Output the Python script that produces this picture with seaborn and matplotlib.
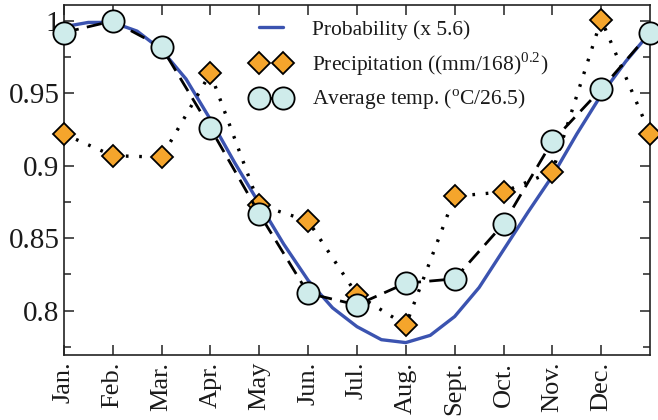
import matplotlib
matplotlib.use("Agg")
import matplotlib.pyplot as plt
import numpy as np
import pandas as pd
import seaborn as sns
from matplotlib.ticker import MultipleLocator, FixedLocator, FixedFormatter

# ---------------- data ----------------
months = ["Jan.", "Feb.", "Mar.", "Apr.", "May", "Jun.", "Jul.", "Aug.",
          "Sept.", "Oct.", "Nov.", "Dec."]
month_pos = [1, 2, 3, 4, 5, 6, 7, 8, 9, 10, 11, 12, 13]   # 13 = Jan. again

temp = [0.992, 1.000, 0.982, 0.926, 0.867, 0.812, 0.804, 0.819, 0.822,
        0.860, 0.917, 0.953, 0.992]
precip = [0.922, 0.907, 0.906, 0.964, 0.873, 0.862, 0.811, 0.790, 0.879,
          0.882, 0.896, 1.001, 0.922]

prob_x = [1.0, 1.5, 2.0, 2.5, 3.0, 3.5, 4.0, 4.5, 5.0, 5.5, 6.0, 6.5, 7.0,
          7.5, 8.0, 8.5, 9.0, 9.5, 10.0, 10.5, 11.0, 11.5, 12.0, 12.5, 13.0]
prob = [0.996, 0.999, 0.999, 0.993, 0.980, 0.960, 0.932, 0.902, 0.874,
        0.846, 0.821, 0.802, 0.789, 0.780, 0.778, 0.783, 0.796, 0.816,
        0.842, 0.868, 0.893, 0.922, 0.949, 0.972, 0.992]

ytick_vals = [0.8, 0.85, 0.9, 0.95, 1.0]
ytick_labels = ["0.8", "0.85", "0.9", "0.95", "1"]

labels = ["Probability (x 5.6)",
          r"Precipitation ((mm/168)$^{\mathregular{0.2}}$)",
          r"Average temp. ($^{\mathregular{o}}$C/26.5)"]

# ---------------- style ----------------
sns.set_style("ticks")
plt.rcParams["font.family"] = ["Liberation Serif", "DejaVu Serif"]
plt.rcParams["mathtext.fontset"] = "custom"
plt.rcParams["mathtext.rm"] = "Liberation Serif"

fig = plt.figure(figsize=(6.58, 4.20), dpi=100)
ax = fig.add_axes([0.097, 0.155, 0.891, 0.833])

df_prob = pd.DataFrame({"x": prob_x, "y": prob})
df_m = pd.DataFrame({"x": month_pos, "temp": temp, "precip": precip})

sns.lineplot(data=df_prob, x="x", y="y", ax=ax, color="#3b53b0",
             linewidth=2.4, label=labels[0], zorder=2,
             solid_joinstyle="round")
sns.lineplot(data=df_m, x="x", y="precip", ax=ax, color="black",
             linewidth=2.4, linestyle=(0, (0.8, 3.2)),
             marker="D", markersize=11, markerfacecolor="#f5a52c",
             markeredgecolor="black", markeredgewidth=1.3,
             label=labels[1], zorder=3, clip_on=False)
sns.lineplot(data=df_m, x="x", y="temp", ax=ax, color="black",
             linewidth=2.0, linestyle=(0, (5.5, 3)),
             marker="o", markersize=16, markerfacecolor="#cfeceb",
             markeredgecolor="black", markeredgewidth=1.3,
             label=labels[2], zorder=4, clip_on=False)

ax.set_xlim(1, 13)
ax.set_ylim(0.7695, 1.011)
ax.set_xlabel("")
ax.set_ylabel("")

ax.xaxis.set_major_locator(FixedLocator(month_pos[:12]))
ax.xaxis.set_major_formatter(FixedFormatter(months))
ax.yaxis.set_major_locator(FixedLocator(ytick_vals))
ax.yaxis.set_major_formatter(FixedFormatter(ytick_labels))
ax.yaxis.set_minor_locator(MultipleLocator(0.025))

ax.tick_params(axis="both", which="both", direction="in", top=True,
               right=True, width=1.1, colors="#222222")
ax.tick_params(axis="both", which="major", length=7.5)
ax.tick_params(axis="y", which="minor", length=5)
ax.tick_params(axis="x", labelsize=19, rotation=90, pad=5, labelcolor="#1a1a1a")
ax.tick_params(axis="y", labelsize=21, pad=3, labelcolor="#1a1a1a")
for s in ax.spines.values():
    s.set_linewidth(1.2)
    s.set_color("#222222")
    s.set_visible(True)

leg = ax.legend(loc="upper left", bbox_to_anchor=(0.322, 0.958),
                frameon=False, numpoints=2, fontsize=15.5,
                handlelength=1.7, handletextpad=1.05, labelspacing=0.47,
                borderpad=0, borderaxespad=0)
for t in leg.get_texts():
    t.set_color("#1a1a1a")

fig.savefig("out.png", dpi=100)
